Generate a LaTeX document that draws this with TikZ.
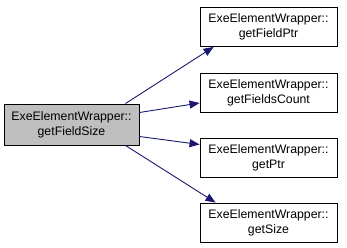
\documentclass[tikz,border=0pt]{standalone}
\usepackage{fontspec}
\setmainfont{Liberation Sans}
\usetikzlibrary{arrows.meta,calc}
\definecolor{edgeblue}{HTML}{191970}
\definecolor{curfill}{HTML}{BFBFBF}
\begin{document}
\begin{tikzpicture}[x=1pt,y=-1pt,
  fn/.style={draw=black,line width=0.9pt,fill=white,minimum width=137pt,minimum height=39pt,
    inner sep=0pt,align=center,font=\fontsize{12.3}{15}\selectfont},
  cur/.style={fn,fill=curfill,minimum width=135pt,minimum height=41pt},
  call/.style={draw=edgeblue,line width=0.9pt,-{Triangle[length=10pt,width=8pt]},fill=none}]
\useasboundingbox (0,0) rectangle (347,248);
\node[cur] (L) at (71.5,124.5) {ExeElementWrapper::\\getFieldSize};
\node[fn] (A) at (268.5,27) {ExeElementWrapper::\\getFieldPtr};
\node[fn] (B) at (268.5,93) {ExeElementWrapper::\\getFieldsCount};
\node[fn] (C) at (268.5,157.5) {ExeElementWrapper::\\getPtr};
\node[fn] (D) at (268.5,222.5) {ExeElementWrapper::\\getSize};
\draw[call] ($(L.north east)+(-14,0)$) -- ($(A.south west)+(14,0)$);
\draw[call] ($(L.east)+(0,-12)$) -- ($(B.west)+(0,10)$);
\draw[call] ($(L.east)+(0,12)$) -- ($(C.west)+(0,-13)$);
\draw[call] ($(L.south east)+(-14,0)$) -- ($(D.north west)+(16,0)$);
\end{tikzpicture}
\end{document}
